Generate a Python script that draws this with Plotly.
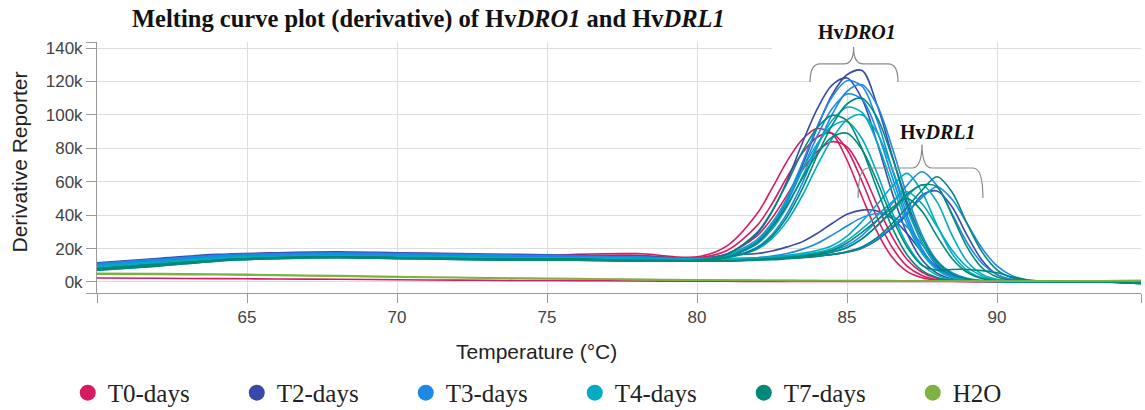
import plotly.graph_objects as go

# ---------------- data (derivative reporter, in thousands) ----------------
TEMP = [60, 62, 64, 66, 68, 70, 72, 74, 76, 78, 80, 81, 82, 82.5, 83, 83.5, 84, 84.5,
        85, 85.5, 86, 86.5, 87, 87.5, 88, 88.5, 89, 89.5, 90, 90.5, 91, 92, 93, 94, 95]

X_TICKS = [65, 70, 75, 80, 85, 90]
Y_TICKS = [0, 20, 40, 60, 80, 100, 120, 140]
Y_TICK_TEXT = ["0k", "20k", "40k", "60k", "80k", "100k", "120k", "140k"]

# T0-days
t0_a = [8, 11, 13.5, 14.5, 15, 15, 14.5, 14.5, 16.5, 17, 15.0, 21.6, 40.8, 56, 72.2, 85.1, 91.8, 88.7, 73, 51,
        30.1, 14.9, 6.3, 2.5, 1.0, 0.4, 0.3, 0.3, 0.2, 0.2, 0.2, 0.1, 0.1, 0, -0.3]
t0_b = [9, 12, 14, 15, 15.5, 15, 14.5, 14, 14.5, 15, 14.4, 18.8, 33.7, 46.8, 62.7, 76.9, 86.6, 89, 79.3, 60.3,
        38.6, 20.9, 9.5, 3.9, 1.4, 0.6, 0.3, 0.3, 0.2, 0.2, 0.2, 0.1, 0.1, 0, -0.3]
t0_c = [8.5, 11.5, 13.5, 14.5, 15, 14.5, 14, 14, 15.5, 16, 14, 16.8, 27.6, 38.2, 52, 66.5, 78, 83.9, 80.9, 66.5,
        46.4, 27.3, 13.6, 5.8, 2.3, 0.9, 0.4, 0.3, 0.2, 0.2, 0.2, 0.1, 0.1, 0, -0.3]
t0_low = [2.4, 2.2, 2.0, 1.8, 1.6, 1.3, 1.1, 0.9, 0.8, 0.6, 0.4, 0.4, 0.3, 0.3, 0.3, 0.3, 0.3, 0.3, 0.3, 0.3,
          0.3, 0.3, 0.3, 0.3, 0.3, 0.3, 0.3, 0.3, 0.3, 0.3, 0.3, 0.2, 0.1, 0, -0.3]

# T2-days
t2_a = [11.5, 14, 16.5, 17.5, 18, 17.5, 17, 16.5, 16, 15.5, 14, 15.2, 23, 33, 48.5, 69, 92, 112, 124, 126.5,
        106, 76, 46, 23.5, 10, 3.8, 1.4, 0.5, 0.4, 0.3, 0.3, 0.2, 0.1, 0, -0.6]
t2_b = [10.5, 13, 15.5, 16.5, 17, 16.5, 16, 15.5, 15, 14.5, 14, 16.8, 28.9, 41.9, 60.4, 82.7, 103.3, 117.8, 122, 109.5,
        83.6, 53.7, 29.1, 13.3, 5.3, 1.9, 0.8, 0.4, 0.3, 0.3, 0.3, 0.2, 0.1, 0, -0.5]
t2_c = [10, 12.5, 15, 16, 16.5, 16, 15.5, 15, 14.5, 14, 13.5, 13.5, 13.5, 13.7, 14.2, 14.7, 15.4, 16.4, 17.8, 20.2,
        25, 32.2, 40.3, 52, 54.5, 45, 28, 13, 4.4, 1.5, 0.6, 0.3, 0.2, 0.1, -0.5]
t2_d = [11, 13.5, 16, 17, 17.5, 17, 16.5, 16, 15.5, 15, 13.5, 16, 17, 18.5, 21, 24, 29, 35, 40.5, 43,
        42.5, 38, 29, 18, 9, 4, 1.5, 0.6, 0.4, 0.3, 0.3, 0.2, 0.1, 0, -0.5]

# T3-days
t3_a = [11, 13.5, 16, 17, 17.5, 17, 16.5, 16, 15.5, 15, 14, 15.5, 24.3, 34.5, 50.2, 70.7, 92.7, 110.7, 120.4, 117.1,
        96.9, 67.9, 40.1, 19.9, 8.4, 3.2, 1.2, 0.5, 0.4, 0.3, 0.3, 0.2, 0.1, 0, -0.5]
t3_b = [10, 12.5, 15, 16, 16.5, 16, 15.5, 15, 14.5, 14, 13.5, 14.7, 20.8, 28.4, 40.9, 58.7, 80.3, 100.1, 114.1, 118,
        105.9, 80.8, 51.9, 28.1, 12.8, 5.1, 1.8, 0.7, 0.4, 0.3, 0.3, 0.2, 0.1, 0, -0.5]
t3_c = [10.5, 13, 15.5, 16.5, 17, 16.5, 16, 15.5, 15, 14.5, 14, 15.4, 23.6, 33, 47.6, 66.6, 87, 103.6, 112.5, 109.3,
        90.3, 63.2, 37.3, 18.6, 7.9, 3, 1.1, 0.5, 0.4, 0.3, 0.3, 0.2, 0.1, 0, -0.5]
t3_d = [9.5, 12, 14.5, 15.5, 16, 15.5, 15, 14.5, 14.5, 14, 14, 14, 13.9, 14.5, 15.1, 16, 17.1, 18.9, 21.9, 27.8,
        36.6, 46.9, 57.9, 66, 57.6, 40.9, 23.6, 11.2, 4.4, 1.5, 0.6, 0.3, 0.2, 0.1, -0.5]
t3_e = [10, 12.5, 15, 16, 16.5, 16, 15.5, 15, 14.5, 14, 13.5, 13.5, 13.5, 13.8, 14.3, 14.8, 15.5, 16.5, 18, 20.5,
        25.5, 33, 41.5, 50.5, 57, 49.5, 35, 20.2, 9.6, 3.8, 1.3, 0.3, 0.2, 0.1, -0.5]
t3_f = [10.5, 13, 15.5, 16.5, 17, 16.5, 16, 15.5, 15, 14.5, 13, 13.5, 14.5, 15.5, 17, 19.5, 23, 28, 33.5, 38.5,
        41, 39.5, 33, 22.5, 12, 5.5, 2.2, 0.9, 0.5, 0.3, 0.3, 0.2, 0.1, 0, -0.5]

# T4-days
t4_a = [9, 11.5, 14, 15, 15.5, 15, 14.5, 14.5, 14.5, 14, 13.5, 15.2, 22.8, 31.5, 45, 62.6, 81.4, 96.6, 104.6, 101.5,
        83.7, 58.6, 34.6, 17.2, 7.3, 2.8, 1.1, 0.5, 0.4, 0.3, 0.3, 0.2, 0.1, 0, -0.5]
t4_b = [8.5, 11, 13.5, 14.5, 15, 14.5, 14, 14, 14, 13.5, 13.5, 14.5, 19.6, 25.9, 36.4, 51.3, 69.3, 85.7, 97, 100,
        89.4, 68, 43.6, 23.6, 10.8, 4.3, 1.6, 0.7, 0.4, 0.3, 0.3, 0.2, 0.1, 0, -0.5]
t4_c = [9.5, 12, 14.5, 15.5, 16, 15.5, 15, 14.5, 14.5, 14, 13.5, 16.1, 25.4, 35.4, 49.7, 66.9, 82.5, 93.2, 96, 85.7,
        65.2, 41.8, 22.6, 10.3, 4.2, 1.5, 0.7, 0.4, 0.3, 0.3, 0.3, 0.2, 0.1, 0, -0.5]
t4_d = [9, 11.5, 14, 15, 15.5, 15, 14.5, 14.5, 14, 14, 13.5, 14, 14.5, 15, 15.9, 17.1, 18.8, 21.7, 27.5, 36.2,
        46.3, 57.1, 65, 53.8, 34, 17, 7, 2.5, 0.8, 0.4, 0.3, 0.2, 0.1, 0, -0.5]
t4_e = [8.5, 11, 13.5, 14.5, 15, 14.5, 14, 14, 14, 13.5, 13.5, 13.8, 14.2, 14.6, 15.4, 16.3, 17.7, 20, 24.8, 31.8,
        39.7, 48, 54, 46.8, 33.1, 19.1, 9.1, 3.6, 1.2, 0.5, 0.3, 0.2, 0.1, 0, -0.5]
t4_f = [9, 11.5, 14, 15, 15.5, 15, 14.5, 14, 14, 13.5, 13.5, 13.5, 13.8, 14.3, 14.8, 15.6, 16.6, 18.1, 20.7, 25.8,
        33.4, 42.1, 51.3, 58, 47.9, 28, 12.4, 4.7, 1.6, 0.6, 0.3, 0.2, 0.1, 0, -0.5]

# T7-days
t7_a = [8, 10.5, 13, 14.5, 15, 14.5, 14, 13.5, 13.5, 13, 13, 14.6, 20.2, 27.3, 38.9, 55.4, 75.4, 93.7, 106.5, 110,
        98.5, 75.1, 48.2, 26.1, 11.9, 4.8, 1.7, 0.7, 0.4, 0.3, 0.3, 0.2, 0.1, -0.2, -0.8]
t7_b = [7, 9.5, 12.5, 14, 14.5, 14, 13.5, 13, 13, 12.5, 13.1, 16.5, 29.6, 42.4, 59.1, 77.5, 92.1, 99.7, 96.6, 79.6,
        55.7, 32.8, 16.3, 6.9, 2.7, 1, 0.4, 0.3, 0.3, 0.3, 0.2, 0.2, 0.1, -0.2, -0.8]
t7_c = [7.5, 10, 13, 14.5, 15, 14.5, 14, 13.5, 13.5, 13, 12.5, 14.8, 23.4, 32.7, 45.8, 61.7, 76.4, 86.6, 89, 79.3,
        60.3, 38.6, 20.9, 10, 7, 7.5, 7.5, 6.8, 5.5, 3, 1.2, 0.3, 0.1, -0.2, -0.8]
t7_d = [7, 9.5, 12.5, 14, 14.5, 14, 13.5, 13, 13, 12.5, 12.5, 12.5, 13.1, 13.3, 13.9, 14.5, 15.3, 16.4, 18.1, 20.9,
        26.5, 34.9, 44.6, 54.9, 63, 53.8, 35, 18, 7.3, 2.5, 0.9, 0.3, 0.1, -0.3, -1.2]
t7_e = [7.5, 10, 13, 14.5, 15, 14.5, 14, 13.5, 13.5, 13, 12.5, 12.5, 13.3, 13.8, 14.4, 15.2, 16.2, 17.8, 20.5, 25.8,
        33.7, 42.8, 52.5, 58, 57, 40, 21, 8.5, 3, 1, 0.3, 0.2, 0.1, -0.3, -1.2]
t7_f = [8, 10.5, 13, 14.5, 15, 14.5, 14, 13.5, 13.5, 13, 12.5, 12.5, 13.6, 14, 14.7, 15.5, 16.8, 19, 23.3, 29.7,
        36.8, 44.3, 50, 42.3, 27.4, 14.1, 5.8, 2, 0.7, 0.3, 0.3, 0.2, 0.1, -0.3, -1]

# H2O
h2o_a = [5.2, 5.0, 4.8, 4.3, 3.8, 3.2, 2.8, 2.3, 2.0, 1.6, 1.3, 1.2, 1.1, 1.0, 1.0, 0.9, 0.9, 0.9, 0.8, 0.8,
         0.8, 0.8, 0.7, 0.7, 0.7, 0.7, 0.7, 0.6, 0.6, 0.6, 0.6, 0.6, 0.7, 0.8, 0.9]
h2o_b = [4.6, 4.5, 4.3, 3.9, 3.4, 2.9, 2.5, 2.1, 1.8, 1.4, 1.1, 1.0, 0.9, 0.9, 0.8, 0.8, 0.8, 0.7, 0.7, 0.7,
         0.7, 0.6, 0.6, 0.6, 0.6, 0.6, 0.5, 0.5, 0.5, 0.5, 0.5, 0.5, 0.6, 0.7, 0.8]

GROUP_NAMES = ["T0-days", "T2-days", "T3-days", "T4-days", "T7-days", "H2O"]
GROUP_COLORS = ["#d81b60", "#3949ab", "#1e88e5", "#00acc1", "#00897b", "#7cb342"]
GROUP_CURVES = [
    [t0_low, t0_a, t0_b, t0_c],
    [t2_a, t2_b, t2_c, t2_d],
    [t3_a, t3_b, t3_c, t3_d, t3_e, t3_f],
    [t4_a, t4_b, t4_c, t4_d, t4_e, t4_f],
    [t7_a, t7_b, t7_c, t7_d, t7_e, t7_f],
    [h2o_a, h2o_b],
]

for curves in GROUP_CURVES:
    for c in curves:
        assert len(c) == len(TEMP), len(c)

# ---------------- figure ----------------
fig = go.Figure()

for name, color, curves in zip(GROUP_NAMES, GROUP_COLORS, GROUP_CURVES):
    for c in curves:
        fig.add_trace(go.Scatter(
            x=TEMP, y=c, mode="lines", legendgroup=name, showlegend=False,
            line=dict(color=color, width=1.6, shape="spline", smoothing=0.9),
            hoverinfo="skip"))

for name, color in zip(GROUP_NAMES, GROUP_COLORS):
    fig.add_trace(go.Scatter(
        x=[None], y=[None], mode="markers", name=name, legendgroup=name,
        marker=dict(color=color, size=16, symbol="circle")))

AX_COLOR = "#9a9a9a"
GRID_COLOR = "#dddddd"
TICK_FONT = dict(family="Liberation Sans", size=17, color="#444444")

fig.update_xaxes(
    range=[60, 94.8], tickvals=X_TICKS, ticks="outside", ticklen=9, tickcolor=AX_COLOR,
    showline=True, linecolor=AX_COLOR, linewidth=1, showgrid=True, gridcolor=GRID_COLOR,
    gridwidth=1, zeroline=False, tickfont=TICK_FONT,
    minor=dict(tickvals=[60, 94.8], ticks="outside", ticklen=9, tickcolor=AX_COLOR, showgrid=False))
fig.update_yaxes(
    range=[-6.6, 143.6], tickvals=Y_TICKS, ticktext=Y_TICK_TEXT, ticks="outside", ticklen=10,
    tickcolor=AX_COLOR, showline=True, linecolor=AX_COLOR, linewidth=1, showgrid=True,
    gridcolor=GRID_COLOR, gridwidth=1, zeroline=False, tickfont=TICK_FONT,
    minor=dict(tickvals=[-6.6, 143.6], ticks="outside", ticklen=10, tickcolor=AX_COLOR, showgrid=False))

SERIF = "Liberation Serif"
BRACE = dict(color="#8a8a8a", width=1.2)

shapes = [
    # white boxes behind the labels (cover gridlines only)
    dict(type="rect", xref="x", yref="y", x0=82.5, x1=87.73, y0=132.9, y1=143.6,
         fillcolor="white", line=dict(width=0), layer="between"),
    dict(type="rect", xref="x", yref="y", x0=83.77, x1=86.7, y0=117.3, y1=132.9,
         fillcolor="white", line=dict(width=0), layer="between"),
    dict(type="rect", xref="x", yref="y", x0=86.83, x1=88.93, y0=77.8, y1=96.9,
         fillcolor="white", line=dict(width=0), layer="between"),
    # braces
    dict(type="path", xref="x", yref="y", line=BRACE, layer="above",
         path="M 83.77,119.7 Q 83.77,130.5 84.1,130.5 L 84.9,130.5 Q 85.22,130.5 85.22,140.6 "
              "Q 85.22,130.5 85.54,130.5 L 86.37,130.5 Q 86.7,130.5 86.7,119.7"),
    dict(type="path", xref="x", yref="y", line=BRACE, layer="above",
         path="M 85.37,50.3 Q 85.37,68.2 85.7,68.2 L 87.17,68.2 Q 87.5,68.2 87.5,83.2 "
              "Q 87.5,68.2 87.83,68.2 L 89.2,68.2 Q 89.53,68.2 89.53,50.3"),
]

annotations = [
    dict(text="Temperature (°C)", xref="paper", yref="paper", x=0.4205, y=-0.235,
         xanchor="center", yanchor="middle", showarrow=False,
         font=dict(family="Liberation Sans", size=21, color="#222222")),
    dict(text="Derivative Reporter", xref="paper", yref="paper", x=-0.0747, y=0.52,
         xanchor="center", yanchor="middle", showarrow=False, textangle=-90,
         font=dict(family="Liberation Sans", size=21, color="#222222")),
    dict(text="<b>Hv<i>DRO1</i></b>", xref="x", yref="paper", x=85.33, y=1.04,
         xanchor="center", yanchor="middle", showarrow=False,
         font=dict(family=SERIF, size=20, color="#111111")),
    dict(text="<b>Hv<i>DRL1</i></b>", xref="x", yref="y", x=88.02, y=89.8,
         xanchor="center", yanchor="middle", showarrow=False, bgcolor="white",
         font=dict(family=SERIF, size=20, color="#111111")),
]

fig.update_layout(
    width=1145, height=410,
    margin=dict(l=97, r=4, t=42, b=117, autoexpand=False),
    plot_bgcolor="white", paper_bgcolor="white",
    title=dict(text="<b>Melting curve plot (derivative) of Hv<i>DRO1</i> and Hv<i>DRL1</i></b>",
               x=132 / 1145, xanchor="left", xref="container",
               y=1 - 18 / 410, yanchor="middle", yref="container",
               font=dict(family=SERIF, size=24.5, color="#111111")),
    showlegend=True,
    legend=dict(orientation="h", x=-0.028, xanchor="left", y=-0.398, yanchor="middle",
                entrywidth=124, entrywidthmode="pixels", itemwidth=30,
                font=dict(family=SERIF, size=25, color="#222222"),
                bgcolor="rgba(0,0,0,0)", borderwidth=0),
    shapes=shapes,
    annotations=annotations,
)

fig.write_html("out.html")
